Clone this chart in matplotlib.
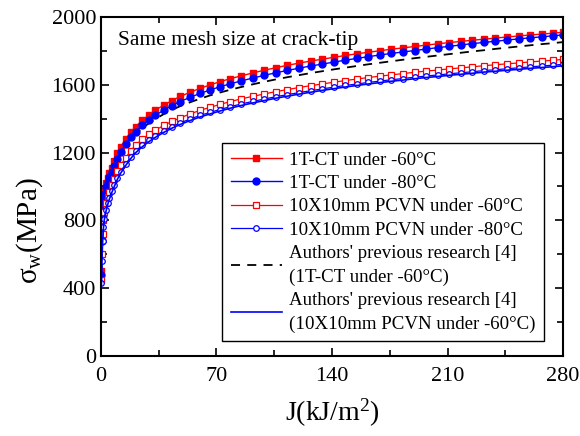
import numpy as np
import matplotlib
matplotlib.use('Agg')
import matplotlib.pyplot as plt
from matplotlib.ticker import MultipleLocator

plt.rcParams['font.family'] = ['Liberation Serif', 'DejaVu Serif']
plt.rcParams['mathtext.fontset'] = 'custom'
plt.rcParams['mathtext.rm'] = 'Liberation Serif'
plt.rcParams['mathtext.it'] = 'Liberation Serif:italic'

# J values (kJ/m^2) where the points were read
J = [0.3, 0.6, 1, 1.5, 2, 3, 4, 5, 6.5, 8, 10, 12, 15, 18, 21, 25, 29, 33, 38, 43,
     48, 54, 60, 66, 72, 78, 85, 92, 99, 106, 113, 120, 127, 134, 141, 148, 155,
     162, 169, 176, 183, 190, 197, 204, 211, 218, 225, 232, 239, 246, 253, 260,
     267, 274, 280]

# 1T-CT under -60C
ct60 = [500, 700, 850, 940, 980, 1020, 1050, 1080, 1110, 1150, 1195, 1235, 1280,
        1320, 1353, 1390, 1422, 1450, 1480, 1507, 1531, 1556, 1579, 1599, 1618,
        1635, 1653, 1670, 1686, 1701, 1715, 1728, 1740, 1751, 1762, 1773, 1783,
        1792, 1801, 1810, 1818, 1826, 1834, 1842, 1849, 1856, 1863, 1869, 1876,
        1882, 1888, 1894, 1899, 1905, 1910]

# 1T-CT under -80C
ct80 = [480, 680, 830, 915, 955, 995, 1025, 1055, 1085, 1122, 1165, 1205, 1250,
        1290, 1323, 1360, 1392, 1420, 1450, 1477, 1501, 1526, 1549, 1569, 1588,
        1605, 1623, 1640, 1656, 1671, 1685, 1698, 1711, 1722, 1734, 1745, 1756,
        1766, 1776, 1785, 1794, 1802, 1811, 1819, 1827, 1835, 1843, 1850, 1857,
        1864, 1871, 1877, 1883, 1889, 1895]

# 10X10mm PCVN under -60C
pc60 = [450, 600, 720, 800, 850, 900, 940, 970, 1010, 1045, 1090, 1125, 1170,
        1210, 1244, 1278, 1307, 1332, 1360, 1384, 1405, 1428, 1449, 1467, 1484,
        1500, 1517, 1532, 1546, 1560, 1572, 1584, 1595, 1605, 1615, 1625, 1634,
        1643, 1651, 1659, 1666, 1674, 1681, 1687, 1694, 1700, 1706, 1713, 1718,
        1724, 1729, 1735, 1740, 1745, 1750]

# 10X10mm PCVN under -80C
pc80 = [430, 560, 680, 760, 810, 860, 900, 932, 972, 1008, 1052, 1088, 1133,
        1173, 1208, 1243, 1273, 1299, 1328, 1353, 1375, 1398, 1419, 1437, 1454,
        1470, 1487, 1502, 1516, 1530, 1542, 1554, 1565, 1576, 1586, 1596, 1605,
        1614, 1622, 1630, 1637, 1645, 1652, 1658, 1665, 1671, 1677, 1684, 1689,
        1695, 1700, 1706, 1711, 1716, 1721]

# Authors' previous research [4] (1T-CT under -60C)
prev_ct = [480, 680, 830, 915, 955, 995, 1025, 1055, 1085, 1120, 1160, 1198, 1240,
           1278, 1308, 1343, 1373, 1398, 1427, 1452, 1474, 1497, 1518, 1537, 1554,
           1570, 1587, 1603, 1618, 1632, 1645, 1657, 1669, 1680, 1691, 1701, 1711,
           1721, 1730, 1739, 1748, 1757, 1765, 1773, 1781, 1789, 1797, 1804, 1812,
           1819, 1826, 1833, 1840, 1846, 1852]

# Authors' previous research [4] (10X10mm PCVN under -60C)
prev_pc = [420, 550, 670, 750, 800, 850, 890, 922, 962, 998, 1043, 1079, 1124,
           1164, 1199, 1234, 1264, 1290, 1319, 1344, 1366, 1389, 1410, 1428, 1445,
           1461, 1478, 1493, 1507, 1521, 1533, 1545, 1556, 1567, 1577, 1587, 1596,
           1605, 1613, 1621, 1628, 1636, 1643, 1649, 1656, 1662, 1668, 1675, 1680,
           1686, 1691, 1697, 1702, 1707, 1712]

fig = plt.figure(figsize=(5.8, 4.36), dpi=100)
ax = fig.add_axes([0.174, 0.1835, 0.797, 0.7775])

ax.plot(J, ct60, '-', color='red', lw=1, marker='s', ms=4.5, mec='red', mfc='red',
        label='1T-CT under -60°C')
ax.plot(J, ct80, '-', color='blue', lw=1, marker='o', ms=5, mec='blue', mfc='blue',
        label='1T-CT under -80°C')
ax.plot(J, prev_ct, '--', color='black', lw=1.3, dashes=(5, 4),
        label="Authors' previous research [4]\n(1T-CT under -60°C)", zorder=1)
ax.plot(J, pc60, '-', color='red', lw=0.9, marker='s', ms=4.5, mec='red', mfc='white',
        mew=0.9, label='10X10mm PCVN under -60°C')
ax.plot(J, pc80, '-', color='blue', lw=0.9, marker='o', ms=4, mec='blue', mfc='white',
        mew=0.9, label='10X10mm PCVN under -80°C')
ax.plot(J, prev_pc, '-', color='blue', lw=1.2,
        label="Authors' previous research [4]\n(10X10mm PCVN under -60°C)")

ax.set_xlim(0, 280)
ax.set_ylim(0, 2000)
ax.xaxis.set_major_locator(MultipleLocator(70))
ax.xaxis.set_minor_locator(MultipleLocator(35))
ax.yaxis.set_major_locator(MultipleLocator(400))
ax.yaxis.set_minor_locator(MultipleLocator(200))
ax.tick_params(which='both', direction='in', top=True, right=True, width=1.2,
               labelsize=16)
ax.tick_params(which='major', length=6)
ax.tick_params(which='minor', length=4)
ax.tick_params(axis='x', pad=8)
for s in ax.spines.values():
    s.set_linewidth(1.5)

ax.set_xlabel('J(kJ/m$^2$)', fontsize=20, labelpad=8)
ax.set_ylabel('σ$_\\mathrm{w}$(MPa)', fontsize=21)
ax.yaxis.set_label_coords(-0.12, 0.37)
ax.text(0.037, 0.93, 'Same mesh size at crack-tip', transform=ax.transAxes,
        fontsize=15.5, va='center')

h, l = ax.get_legend_handles_labels()
order = [0, 1, 3, 4, 2, 5]
leg = ax.legend([h[i] for i in order], [l[i] for i in order],
                loc='lower right', bbox_to_anchor=(0.959, 0.044), fontsize=13.6,
                numpoints=1, fancybox=False, edgecolor='black', framealpha=1,
                handlelength=2.7, handletextpad=0.4, labelspacing=0.32,
                borderpad=0.45, borderaxespad=0)
leg.get_frame().set_linewidth(1)
for t in leg.get_texts():
    t.set_linespacing(1.5)

fig.savefig('out.png', dpi=100)
